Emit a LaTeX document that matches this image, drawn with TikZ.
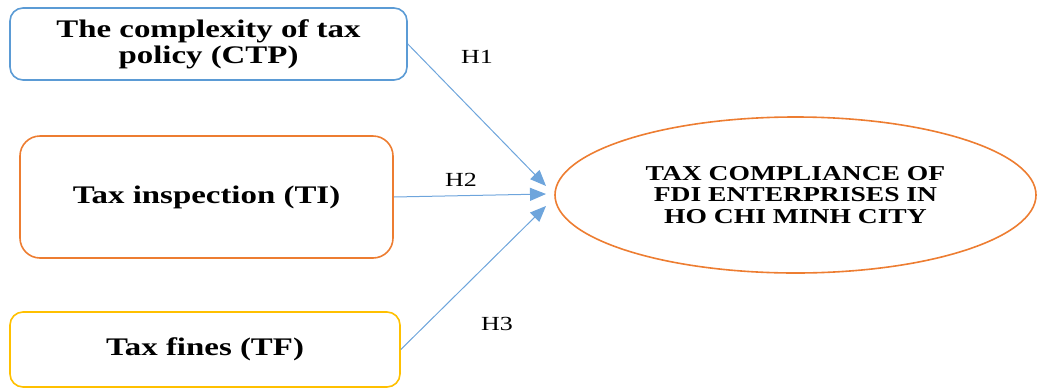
\documentclass[tikz,border=0pt]{standalone}
\usepackage{fontspec}
\newfontfamily\figfont{Liberation Serif}[FakeStretch=1.3]
\usetikzlibrary{arrows.meta,shapes.geometric}

\definecolor{boxblue}{RGB}{91,155,213}
\definecolor{boxorange}{RGB}{237,125,49}
\definecolor{boxyellow}{RGB}{255,192,0}
\definecolor{linkblue}{RGB}{110,165,220}

\tikzset{
	factor/.style={draw, line width=1.6pt, rounded corners=13pt, align=center, inner sep=0pt,
		font=\figfont\bfseries\fontsize{25.3}{26}\selectfont},
	outcome/.style={ellipse, draw=boxorange, line width=1.6pt, align=center, inner sep=0pt,
		font=\figfont\bfseries\fontsize{21.2}{21.5}\selectfont},
	hypo/.style={-{Triangle[length=16pt,width=13pt]}, linkblue, line width=1pt},
	hlabel/.style={font=\figfont\fontsize{20}{21}\selectfont}
}

\begin{document}
\begin{tikzpicture}[x=1pt,y=-1pt]
	\useasboundingbox (0,0) rectangle (1038,389);
	% the three factors
	\node[factor, draw=boxblue, minimum width=397pt, minimum height=72pt] (ctp) at (208.5,44) {The complexity of tax\\policy (CTP)};
	\node[factor, draw=boxorange, rounded corners=20pt, minimum width=373pt, minimum height=122pt] (ti) at (206.5,197) {Tax inspection (TI)};
	\node[factor, draw=boxyellow, minimum width=390pt, minimum height=75pt] (tf) at (205,349.5) {Tax fines (TF)};
	% dependent variable
	\node[outcome, minimum width=481pt, minimum height=156pt] (tc) at (795.5,195) {TAX COMPLIANCE OF\\FDI ENTERPRISES IN\\HO CHI MINH CITY};
	% hypotheses
	\coordinate (e1) at (546,186);
	\coordinate (e2) at (546,194);
	\coordinate (e3) at (546,206);
	\draw[hypo] (ctp.east) -- (e1);
	\draw[hypo] (ti.east) -- (e2);
	\draw[hypo] (tf.east) -- (e3);
	\node[hlabel] (h1) at (477,57) {H1};
	\node[hlabel] (h2) at (461,180) {H2};
	\node[hlabel] (h3) at (497,324) {H3};
\end{tikzpicture}
\end{document}
